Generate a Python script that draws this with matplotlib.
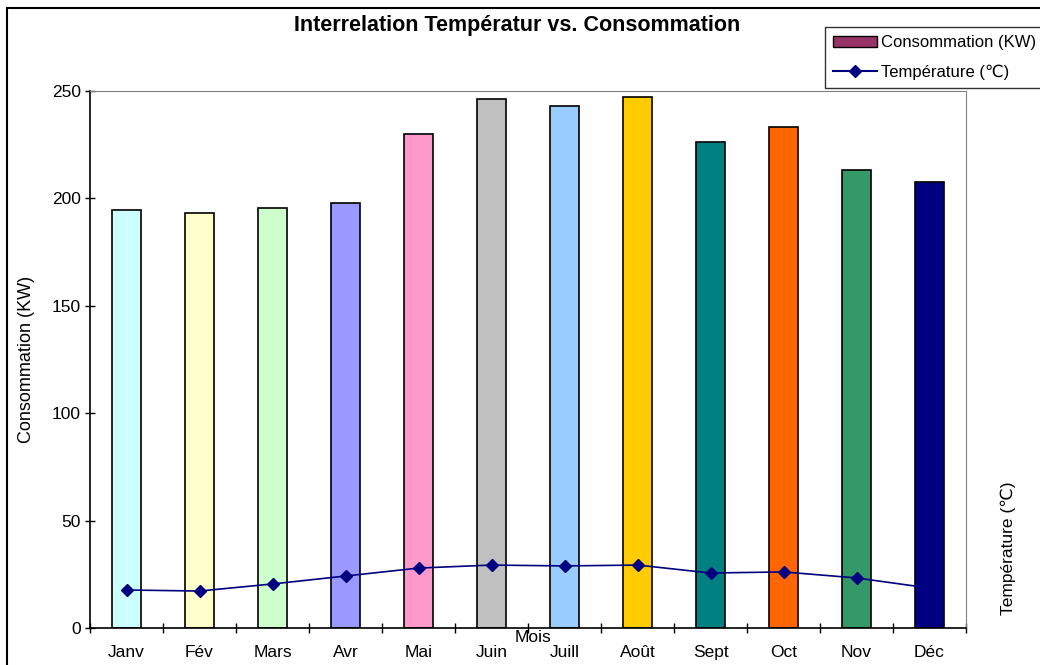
import numpy as np
import matplotlib
matplotlib.use('Agg')
import matplotlib.pyplot as plt
from matplotlib.patches import Rectangle, Patch
from matplotlib.lines import Line2D

plt.rcParams['font.family'] = ['Liberation Sans', 'DejaVu Sans']

mois = ['Janv', 'Fév', 'Mars', 'Avr', 'Mai', 'Juin', 'Juill', 'Août', 'Sept', 'Oct', 'Nov', 'Déc']
consommation = [194.6, 193.2, 195.5, 197.9, 230.0, 246.3, 243.0, 247.2, 226.3, 233.2, 213.2, 207.6]
temperature = [17.7, 17.2, 20.5, 24.2, 27.9, 29.3, 28.9, 29.3, 25.6, 26.1, 23.3, 18.6]
bar_colors = ['#CCFFFF', '#FFFFCC', '#CCFFCC', '#9999FF', '#FF99CC', '#C0C0C0',
              '#99CCFF', '#FFCC00', '#008080', '#FF6600', '#339966', '#000080']

fig = plt.figure(figsize=(10.4, 6.65), dpi=100)
ax = fig.add_axes([90 / 1040, 1 - 628 / 665, (966 - 90) / 1040, (628 - 91) / 665])

x = np.arange(len(mois))
ax.bar(x, consommation, width=0.4, color=bar_colors, edgecolor='black', linewidth=1.2, zorder=2)
ax.plot(x, temperature, color='#000080', marker='D', markersize=6, linewidth=1.2, zorder=3)

ax.set_xlim(-0.5, 11.5)
ax.set_ylim(0, 250)
ax.set_yticks([0, 50, 100, 150, 200, 250])
ax.tick_params(axis='y', direction='inout', length=7, width=1, labelsize=12.5, pad=3)
ax.set_xticks(x)
ax.set_xticklabels(mois)
ax.tick_params(axis='x', which='major', length=0, labelsize=12.5, pad=12)
ax.set_xticks(np.arange(-0.5, 12, 1), minor=True)
ax.tick_params(axis='x', which='minor', direction='inout', length=7, width=1)

for s in ['top', 'right']:
    ax.spines[s].set_color('#808080')
for s in ['left', 'bottom']:
    ax.spines[s].set_color('black')
    ax.spines[s].set_linewidth(1.2)

ax.set_ylabel('Consommation (KW)', fontsize=13, labelpad=12)

fig.text(517 / 1040, 1 - 26 / 665, 'Interrelation Températur vs. Consommation',
         ha='center', va='center', fontsize=15.5, fontweight='bold')
fig.text(533 / 1040, 1 - 637 / 665, 'Mois', ha='center', va='center', fontsize=12.5)
fig.text(1008 / 1040, 1 - 548 / 665, 'Température (℃)', ha='center', va='center',
         fontsize=12.5, rotation=90)

# outer chart frame
fig.patches.append(Rectangle((7 / 1040, -0.1), 1.1, 1 - 8 / 665 + 0.1, transform=fig.transFigure,
                             fill=False, edgecolor='black', linewidth=1.5))

handles = [Patch(facecolor='#993366', edgecolor='black', label='Consommation (KW)'),
           Line2D([0], [0], color='#000080', marker='D', markersize=6, label='Température (℃)')]
leg = fig.legend(handles=handles, loc='upper left', bbox_to_anchor=(825 / 1040, 1 - 27 / 665),
                 fontsize=12, frameon=True, fancybox=False, borderpad=0.5,
                 handlelength=2.6, handletextpad=0.25, labelspacing=0.85, borderaxespad=0)
leg.get_frame().set_edgecolor('black')
leg.get_frame().set_linewidth(1)

fig.savefig('out.png', dpi=100)
